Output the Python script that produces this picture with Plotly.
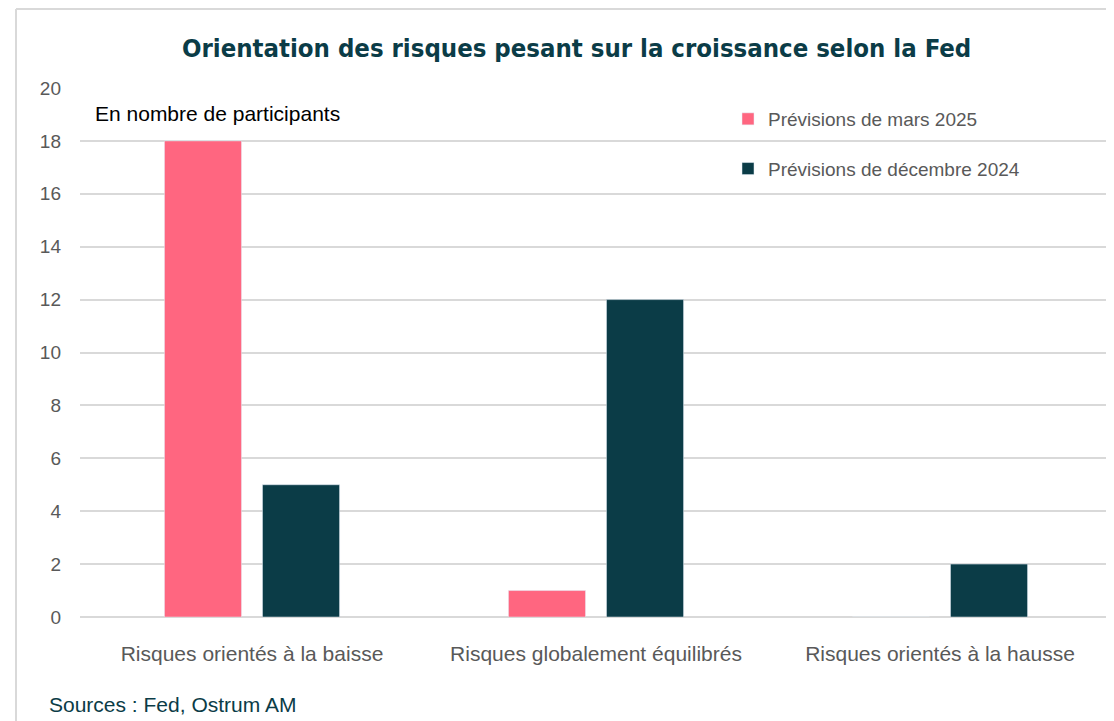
import plotly.graph_objects as go

categories = ["Risques orientés à la baisse", "Risques globalement équilibrés", "Risques orientés à la hausse"]
mars_2025 = [18, 1, 0]
dec_2024 = [5, 12, 2]
series_names = ["Prévisions de mars 2025", "Prévisions de décembre 2024"]
y_ticks = [0, 2, 4, 6, 8, 10, 12, 14, 16, 18, 20]

PINK = "#ff6680"
TEAL = "#0b3c47"
GRID = "#d9d9d9"
GRAY = "#595959"
FONT = "Liberation Sans, Arial, sans-serif"
TITLE_FONT = "DejaVu Sans Condensed, Liberation Sans, sans-serif"

fig = go.Figure()
fig.add_trace(go.Bar(x=categories, y=mars_2025, name=series_names[0], marker_color=PINK,
                     legendgroup="a"))
fig.add_trace(go.Bar(x=categories, y=dec_2024, name=series_names[1], marker_color=TEAL,
                     legendgroup="b"))

OFF = 8  # page body margin
W, H = 1114 - OFF, 721 - OFF
ml, mr, mt, mb = 72, 2, 80, 104
pw, ph = W - ml - mr, H - mt - mb

def px(x):
    # x given in page pixels
    return (x - OFF - ml) / pw

def py(y):
    return (H - mb - (y - OFF)) / ph

fig.update_layout(
    width=W, height=H,
    margin=dict(l=ml, r=mr, t=mt, b=mb),
    paper_bgcolor="white", plot_bgcolor="white",
    barmode="group", bargap=0.43, bargroupgap=0.214,
    font=dict(family=FONT, color=GRAY),
    showlegend=True,
    legend=dict(x=px(728), y=py(100), xanchor="left", yanchor="top",
                bgcolor="rgba(0,0,0,0)", font=dict(size=19, color=GRAY, family=FONT),
                tracegroupgap=22, itemwidth=30),
    xaxis=dict(showgrid=False, showline=False, ticks="", tickfont=dict(size=21, color=GRAY),
               ticklabelstandoff=22),
    yaxis=dict(range=[0, 20], tickvals=y_ticks, showgrid=True, gridcolor=GRID, gridwidth=2,
               zeroline=True, zerolinecolor=GRID, zerolinewidth=2, showline=False,
               tickfont=dict(size=19, color=GRAY), ticklabelstandoff=18),
    shapes=[
        dict(type="line", xref="paper", yref="paper", x0=px(16), x1=px(1114), y0=py(9), y1=py(9),
             line=dict(color=GRID, width=2)),
        dict(type="line", xref="paper", yref="paper", x0=px(16), x1=px(16), y0=py(9), y1=py(721),
             line=dict(color=GRID, width=2)),
    ],
    annotations=[
        dict(text="<b>Orientation des risques pesant sur la croissance selon la Fed</b>",
             xref="paper", yref="paper", x=px(576), y=py(48), xanchor="center", yanchor="middle",
             showarrow=False, font=dict(size=25.5, color=TEAL, family=TITLE_FONT)),
        dict(text="En nombre de participants", xref="paper", yref="paper",
             x=px(93), y=py(113), xanchor="left", yanchor="middle", showarrow=False,
             font=dict(size=21, color="#000000", family=FONT)),
        dict(text="Sources : Fed, Ostrum AM", xref="paper", yref="paper",
             x=px(47), y=py(704), xanchor="left", yanchor="middle", showarrow=False,
             font=dict(size=21, color=TEAL, family=FONT)),
    ],
)

fig.write_html("out.html")
